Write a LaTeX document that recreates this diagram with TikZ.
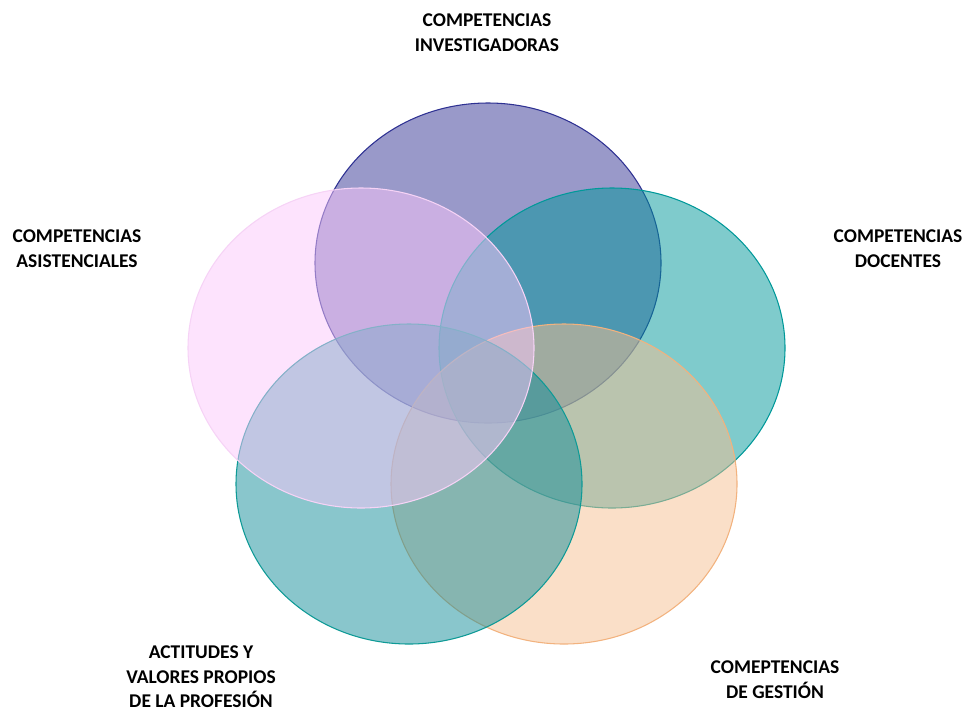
\documentclass[tikz,border=0pt]{standalone}
\usepackage{fontspec}
\setmainfont{Carlito}
\usepackage{xcolor}
\usepackage{tikz}
\usetikzlibrary{positioning}

\definecolor{investfill}{HTML}{333393}
\definecolor{investline}{HTML}{2E3192}
\definecolor{docfill}{HTML}{009799}
\definecolor{docline}{HTML}{009999}
\definecolor{gestfill}{HTML}{F5BF91}
\definecolor{gestline}{HTML}{F2B27E}
\definecolor{actfill}{HTML}{138D99}
\definecolor{actline}{HTML}{0E9A96}
\definecolor{asisfill}{HTML}{FBC7FB}
\definecolor{asisline}{HTML}{F6D3F6}

\begin{document}
\begin{tikzpicture}[
    x=0.75pt, y=-0.75pt,
    set/.style={
        % The outline
        draw, line width=0.8pt,
        % The fill
        fill opacity=0.5, draw opacity=1},
    caption/.style={
        align=center,
        inner sep=0pt,
        % The fonts
        font=\fontsize{14.6}{18.5}\selectfont\bfseries}
  ]
  \useasboundingbox (0,0) rectangle (966,711);
  % los cinco conjuntos
  \draw [set, draw=investline, fill=investfill] (488,263) ellipse [x radius=173, y radius=160];
  \draw [set, draw=docline, fill=docfill] (612,348) ellipse [x radius=173, y radius=160];
  \draw [set, draw=gestline, fill=gestfill] (564,484) ellipse [x radius=173, y radius=160];
  \draw [set, draw=actline, fill=actfill] (409,484) ellipse [x radius=173, y radius=160];
  \draw [set, draw=asisline, fill=asisfill] (361,348) ellipse [x radius=173, y radius=160];
  % etiquetas
  \node (invest) [caption] at (487,33) {COMPETENCIAS\\INVESTIGADORAS};
  \node (asis) [caption] at (77,249) {COMPETENCIAS\\ASISTENCIALES};
  \node (doc) [caption] at (898,249) {COMPETENCIAS\\DOCENTES};
  \node (act) [caption] at (201,677) {ACTITUDES Y\\VALORES PROPIOS\\DE LA PROFESIÓN};
  \node (gest) [caption] at (775,680) {COMEPTENCIAS\\DE GESTIÓN};
\end{tikzpicture}
\end{document}
